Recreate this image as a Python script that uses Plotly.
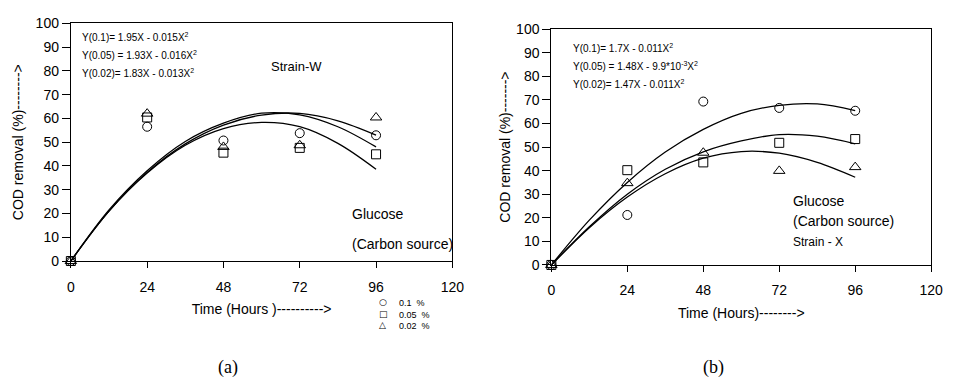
import plotly.graph_objects as go

# ---------------- data ----------------
hours = [0, 24, 48, 72, 96]
fit_hours = [0, 12, 24, 36, 48, 60, 72, 84, 96]

# Panel (a) Strain-W
a_01 = [0, 56.5, 50.7, 53.8, 52.9]
a_005 = [0, 60.4, 45.6, 47.6, 44.9]
a_002 = [0, 62.0, 48.0, 48.7, 60.4]
a_fit_01 = [0, 21.5, 38.0, 50.3, 58.0, 62.2, 61.5, 56.5, 48.0]
a_fit_005 = [0, 21.0, 37.0, 48.7, 55.7, 58.3, 56.5, 49.5, 38.6]
a_fit_002 = [0, 21.0, 37.3, 49.3, 57.2, 61.4, 62.1, 59.0, 53.0]

# Panel (b) Strain-X
b_01 = [0, 21.2, 69.3, 66.6, 65.4]
b_005 = [0, 40.2, 43.5, 51.8, 53.4]
b_002 = [0, 34.7, 47.6, 39.9, 41.5]
b_fit_01 = [0, 19.0, 35.0, 47.9, 57.5, 64.3, 67.7, 68.3, 65.5]
b_fit_005 = [0, 16.2, 30.0, 40.6, 48.0, 52.6, 55.3, 54.6, 51.4]
b_fit_002 = [0, 15.8, 28.8, 38.7, 45.3, 48.1, 47.4, 43.5, 37.2]

series_names = ["0.1  %", "0.05  %", "0.02  %"]
legend_glyphs = ["○", "□", "△"]
x_ticks = [0, 24, 48, 72, 96, 120]
y_ticks = list(range(0, 101, 10))

W, H = 953, 385
FONT = "Liberation Sans, Arial, sans-serif"

def px_x(p):
    return p / W

def px_y(p):
    return 1 - p / H

fig = go.Figure()

symbols = ["circle-open", "square-open", "triangle-up-open"]
sizes = [9, 9, 10]

# panel a
for name, vals, sym, sz in zip(series_names, [a_01, a_005, a_002], symbols, sizes):
    fig.add_trace(go.Scatter(x=hours, y=vals, mode="markers", name=name,
                             marker=dict(symbol=sym, size=sz, color="black",
                                         line=dict(width=1, color="black")),
                             cliponaxis=False, xaxis="x", yaxis="y", showlegend=False))
for vals in [a_fit_01, a_fit_005, a_fit_002]:
    fig.add_trace(go.Scatter(x=fit_hours, y=vals, mode="lines", line_shape="spline",
                             line=dict(color="black", width=1.3), showlegend=False,
                             xaxis="x", yaxis="y", hoverinfo="skip"))
# panel b
for name, vals, sym, sz in zip(series_names, [b_01, b_005, b_002], symbols, sizes):
    fig.add_trace(go.Scatter(x=hours, y=vals, mode="markers", name=name,
                             marker=dict(symbol=sym, size=sz, color="black",
                                         line=dict(width=1, color="black")),
                             cliponaxis=False, xaxis="x2", yaxis="y2", showlegend=False))
for vals in [b_fit_01, b_fit_005, b_fit_002]:
    fig.add_trace(go.Scatter(x=fit_hours, y=vals, mode="lines", line_shape="spline",
                             line=dict(color="black", width=1.3), showlegend=False,
                             xaxis="x2", yaxis="y2", hoverinfo="skip"))

axis_common = dict(showline=True, linecolor="black", linewidth=1.2, mirror=True,
                   ticks="outside", tickcolor="black", tickwidth=1.2,
                   showgrid=False, zeroline=False,
                   tickfont=dict(family=FONT, size=14, color="black"))

fig.update_layout(
    width=W, height=H,
    margin=dict(l=0, r=0, t=0, b=0),
    paper_bgcolor="white", plot_bgcolor="white",
    font=dict(family=FONT, color="black"),
    xaxis=dict(axis_common, domain=[px_x(68), px_x(456)], range=[0, 120],
               tickvals=x_ticks, ticklen=6, anchor="y", ticklabelstandoff=7,
               title=dict(text="Time (Hours )---------->", font=dict(size=14), standoff=10)),
    yaxis=dict(axis_common, domain=[px_y(264), px_y(16)], range=[0, 100],
               tickvals=y_ticks, ticklen=8, anchor="x",
               title=dict(text="COD removal (%)-------->", font=dict(size=14), standoff=8)),
    xaxis2=dict(axis_common, domain=[px_x(556.7), px_x(943)], range=[0, 120],
                tickvals=x_ticks, ticklen=6, anchor="y2", ticklabelstandoff=6,
                title=dict(text="Time (Hours)-------->", font=dict(size=14), standoff=11)),
    yaxis2=dict(axis_common, domain=[px_y(268.1), px_y(22.1)], range=[0, 100],
                tickvals=y_ticks, ticklen=8, anchor="x2",
                title=dict(text="COD removal (%)------->", font=dict(size=14), standoff=2)),
    showlegend=False,
)

ann = []
def add_text(text, x, y, size, xanchor="left", family=FONT, yanchor="middle"):
    ann.append(dict(text=text, x=px_x(x), y=px_y(y), xref="paper", yref="paper",
                    xanchor=xanchor, yanchor=yanchor, showarrow=False, align="left",
                    font=dict(family=family, size=size, color="black")))

# panel a texts
add_text("Y(0.1)= 1.95X - 0.015X<sup>2</sup>", 77, 30, 10)
add_text("Y(0.05) = 1.93X - 0.016X<sup>2</sup>", 77, 49.5, 10)
add_text("Y(0.02)= 1.83X - 0.013X<sup>2</sup>", 77, 68, 10)
add_text("Strain-W", 297.5, 61, 13, xanchor="center")
add_text("Glucose", 352, 215, 14)
add_text("(Carbon source)", 352, 246, 14)
add_text("(a)", 228, 375, 18, xanchor="center", family="Liberation Serif, Times New Roman, serif")

# legend key for panel a (symbols column + labels column)
add_text("<br>".join(legend_glyphs), 386, 299, 9, xanchor="center",
         family="DejaVu Sans, sans-serif", yanchor="top")
add_text("<br>".join(series_names), 400, 300.5, 9, yanchor="top")

# panel b texts
add_text("Y(0.1)= 1.7X - 0.011X<sup>2</sup>", 576.5, 42, 10)
add_text("Y(0.05) = 1.48X - 9.9*10<sup>-3</sup>X<sup>2</sup>", 576.5, 60.5, 10)
add_text("Y(0.02)= 1.47X - 0.011X<sup>2</sup>", 576.5, 79, 10)
add_text("Glucose", 800, 201, 14)
add_text("(Carbon source)", 800, 222, 14)
add_text("Strain - X", 800, 244, 12)
add_text("(b)", 722, 375, 18, xanchor="center", family="Liberation Serif, Times New Roman, serif")

fig.update_layout(annotations=ann)

fig.write_html("out.html")
